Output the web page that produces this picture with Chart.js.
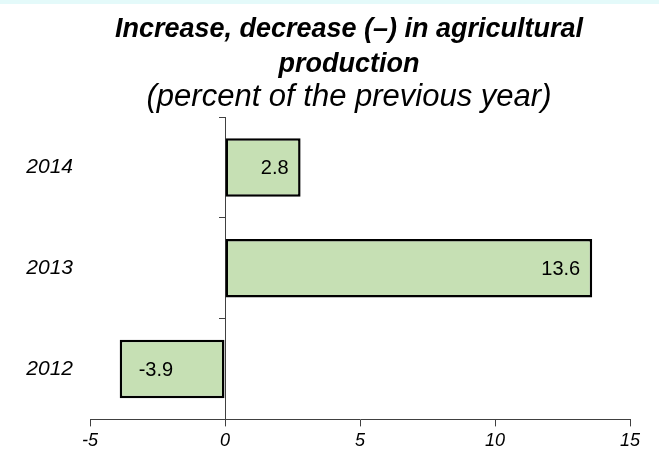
<!DOCTYPE html>
<html>
<head>
    <title>Agricultural production</title>
    <script src="https://cdn.jsdelivr.net/npm/chart.js"></script>
    <style>
        body { margin: 0; background: #fff; }
        #wrap { position: relative; width: 659px; height: 452px; }
        #stripe { position: absolute; left: 0; top: 0; width: 659px; height: 4px; background: #e4fafa; }
    </style>
</head>
<body>
<div id="wrap">
    <canvas id="myChart" width="659" height="452"></canvas>
    <div id="stripe"></div>
</div>
<script>
    // data
    var years = ['2014', '2013', '2012'];
    var change = [2.8, 13.6, -3.9];
    var xTicks = [-5, 0, 5, 10, 15];

    var fontName = "'Liberation Sans', Arial, sans-serif";
    var axisGrey = '#404040';

    // value labels inside the bar ends
    var barLabels = {
        id: 'barLabels',
        afterDatasetsDraw: function (chart) {
            var ctx = chart.ctx;
            var meta = chart.getDatasetMeta(0);
            ctx.save();
            ctx.font = '20px ' + fontName;
            ctx.fillStyle = '#000';
            ctx.textBaseline = 'middle';
            meta.data.forEach(function (bar, i) {
                var v = chart.data.datasets[0].data[i];
                if (v >= 0) {
                    ctx.textAlign = 'right';
                    ctx.fillText(v.toFixed(1), bar.x - 12, bar.y + 1);
                } else {
                    ctx.textAlign = 'left';
                    ctx.fillText(v.toFixed(1), bar.x + 19, bar.y + 1);
                }
            });
            ctx.restore();
        }
    };

    // the titles sit a little right of the canvas centre
    var shiftTitles = {
        id: 'shiftTitles',
        afterLayout: function (chart) {
            chart.boxes.forEach(function (b) {
                if (b.options && b.options.text !== undefined) {
                    b.left += 21;
                    b.right += 21;
                }
            });
        }
    };

    var ctx = document.getElementById('myChart').getContext('2d');
    var chart = new Chart(ctx, {
        type: 'bar',
        data: {
            labels: years,
            datasets: [{
                data: change,
                backgroundColor: '#c6e0b4',
                borderColor: '#000',
                borderWidth: 2.5,
                borderSkipped: false,
                categoryPercentage: 1,
                barPercentage: 0.58
            }]
        },
        options: {
            indexAxis: 'y',
            responsive: false,
            animation: false,
            layout: { padding: { left: 26, right: 29, top: 0, bottom: -4 } },
            plugins: {
                legend: { display: false },
                tooltip: { enabled: false },
                title: {
                    display: true,
                    text: ['Increase, decrease (\u2013) in agricultural', 'production'],
                    color: '#000',
                    font: { family: fontName, size: 27, weight: 'bold', style: 'italic', lineHeight: 1.3 },
                    padding: { top: 12, bottom: 0 }
                },
                subtitle: {
                    display: true,
                    text: '(percent of the previous year)',
                    color: '#000',
                    font: { family: fontName, size: 31, style: 'italic', lineHeight: 1.0 },
                    padding: { top: 0, bottom: 4 }
                }
            },
            scales: {
                x: {
                    min: -5,
                    max: 15,
                    afterBuildTicks: function (scale) {
                        scale.ticks = xTicks.map(function (v) { return { value: v }; });
                    },
                    grid: { drawOnChartArea: false, tickLength: 7, color: axisGrey },
                    border: { color: axisGrey },
                    ticks: {
                        color: '#000',
                        padding: 4,
                        font: { family: fontName, size: 18, style: 'italic' }
                    }
                },
                y: {
                    afterFit: function (scale) { scale.width = 64; },
                    grid: { display: false, drawTicks: false },
                    border: { display: false },
                    ticks: {
                        color: '#000',
                        padding: 17,
                        font: { family: fontName, size: 21, style: 'italic' }
                    }
                },
                y2: {
                    axis: 'y',
                    type: 'category',
                    position: { x: 0 },
                    offset: true,
                    grid: { offset: true, drawOnChartArea: false, tickLength: 6, color: axisGrey },
                    border: { color: axisGrey },
                    ticks: { display: false }
                }
            }
        },
        plugins: [barLabels, shiftTitles]
    });
</script>
</body>
</html>
